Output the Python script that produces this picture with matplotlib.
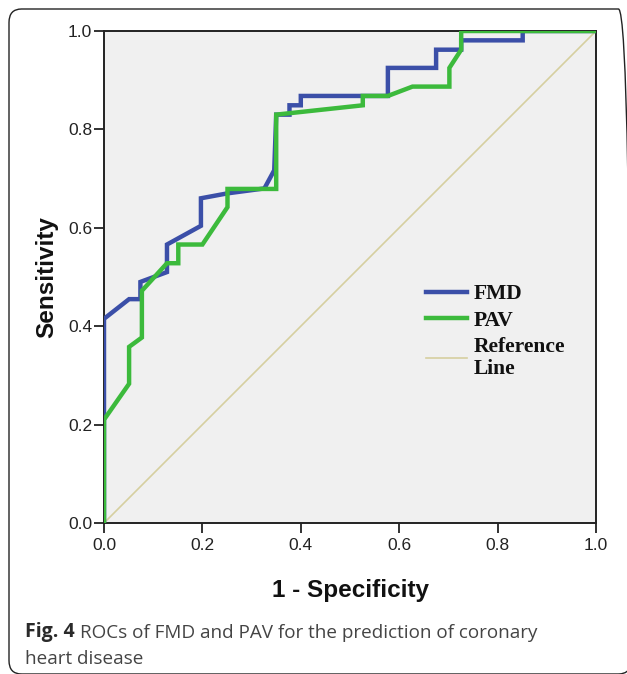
import matplotlib
matplotlib.use("Agg")
import matplotlib.pyplot as plt
from matplotlib.patches import FancyBboxPatch

# FMD ROC curve (1 - specificity, sensitivity)
fmd_x = [0.0, 0.0, 0.051, 0.074, 0.074, 0.128, 0.128, 0.197, 0.197, 0.251, 0.326, 0.346,
         0.35, 0.377, 0.377, 0.40, 0.40, 0.577, 0.577, 0.675, 0.675, 0.726, 0.726, 0.851, 0.851, 1.0]
fmd_y = [0.0, 0.415, 0.455, 0.455, 0.49, 0.51, 0.566, 0.604, 0.66, 0.67, 0.68, 0.717,
         0.83, 0.83, 0.849, 0.849, 0.868, 0.868, 0.925, 0.925, 0.962, 0.962, 0.981, 0.981, 1.0, 1.0]

# PAV ROC curve
pav_x = [0.0, 0.0, 0.051, 0.051, 0.077, 0.077, 0.128, 0.151, 0.151, 0.20, 0.251, 0.251,
         0.35, 0.35, 0.526, 0.526, 0.577, 0.627, 0.702, 0.702, 0.726, 0.726, 1.0]
pav_y = [0.0, 0.21, 0.283, 0.358, 0.377, 0.472, 0.528, 0.528, 0.566, 0.566, 0.642, 0.679,
         0.679, 0.83, 0.849, 0.868, 0.868, 0.887, 0.887, 0.925, 0.962, 1.0, 1.0]

ref_x = [0.0, 1.0]
ref_y = [0.0, 1.0]

ticks = [0.0, 0.2, 0.4, 0.6, 0.8, 1.0]
tick_labels = ["0.0", "0.2", "0.4", "0.6", "0.8", "1.0"]

W, H = 627, 674
fig = plt.figure(figsize=(W / 100, H / 100), dpi=100)
fig.patch.set_facecolor("white")

# rounded frame around the figure (runs off the right and bottom edges)
border = FancyBboxPatch((9 / W, 1 - 674 / H), 622 / W, 665 / H,
                        boxstyle="round,pad=0,rounding_size=0.02",
                        transform=fig.transFigure, facecolor="none",
                        edgecolor="#222222", linewidth=1.0, clip_on=False)
fig.patches.append(border)

ax = fig.add_axes([104 / W, 1 - 523 / H, 492 / W, 492 / H])
ax.set_facecolor("#f0f0f0")

ax.plot(fmd_x, fmd_y, color="#3b4fa8", lw=3.2, label="FMD", solid_joinstyle="miter", zorder=3)
ax.plot(pav_x, pav_y, color="#3cba3c", lw=3.2, label="PAV", solid_joinstyle="miter", zorder=4)
ax.plot(ref_x, ref_y, color="#d6cfa0", lw=1.2, label="Reference\nLine", zorder=2)

ax.set_xlim(0, 1)
ax.set_ylim(0, 1)
ax.set_xticks(ticks)
ax.set_xticklabels(tick_labels)
ax.set_yticks(ticks)
ax.set_yticklabels(tick_labels)
for lab in ax.get_xticklabels() + ax.get_yticklabels():
    lab.set_family("Liberation Sans")
    lab.set_fontsize(12.5)
    lab.set_color("#222222")
ax.tick_params(direction="out", length=7, width=1.3, color="#222222")
ax.tick_params(axis="x", pad=4)
ax.tick_params(axis="y", pad=1.5)
for s in ax.spines.values():
    s.set_linewidth(1.4)
    s.set_color("#222222")

ax.set_xlabel("1 - Specificity", family="Liberation Sans", fontsize=17.5, fontweight="bold",
              va="baseline", color="#111111")
ax.xaxis.set_label_coords(0.5, -(597 - 523) / 492)
ax.set_ylabel("Sensitivity", family="Liberation Sans", fontsize=17.5, fontweight="bold",
              va="baseline", color="#111111")
ax.yaxis.set_label_coords(-(104 - 53.5) / 492, 0.5)

leg = ax.legend(loc="upper left", bbox_to_anchor=((426 - 104) / 492, (523 - 284) / 492),
                frameon=False,
                prop={"family": "Liberation Serif", "weight": "bold", "size": 15.5},
                handlelength=1.9, handletextpad=0.3, labelspacing=0.3, borderpad=0,
                borderaxespad=0)
for t in leg.get_texts():
    t.set_color("#111111")
    t.set_linespacing(1.1)

# caption
cap_y1 = 1 - 637.5 / H
cap_y2 = 1 - 663.5 / H
t1 = fig.text(25 / W, cap_y1, "Fig. 4", family="Open Sans", fontweight="bold",
              fontsize=14, color="#2a2a2a", va="baseline")
fig.canvas.draw()
bb = t1.get_window_extent(renderer=fig.canvas.get_renderer())
fig.text((bb.x1 + 5) / W, cap_y1, "ROCs of FMD and PAV for the prediction of coronary",
         family="Open Sans", fontsize=13.6, color="#444444", va="baseline")
fig.text(25 / W, cap_y2, "heart disease", family="Open Sans", fontsize=13.6,
         color="#444444", va="baseline")

fig.savefig("out.png", dpi=100)
